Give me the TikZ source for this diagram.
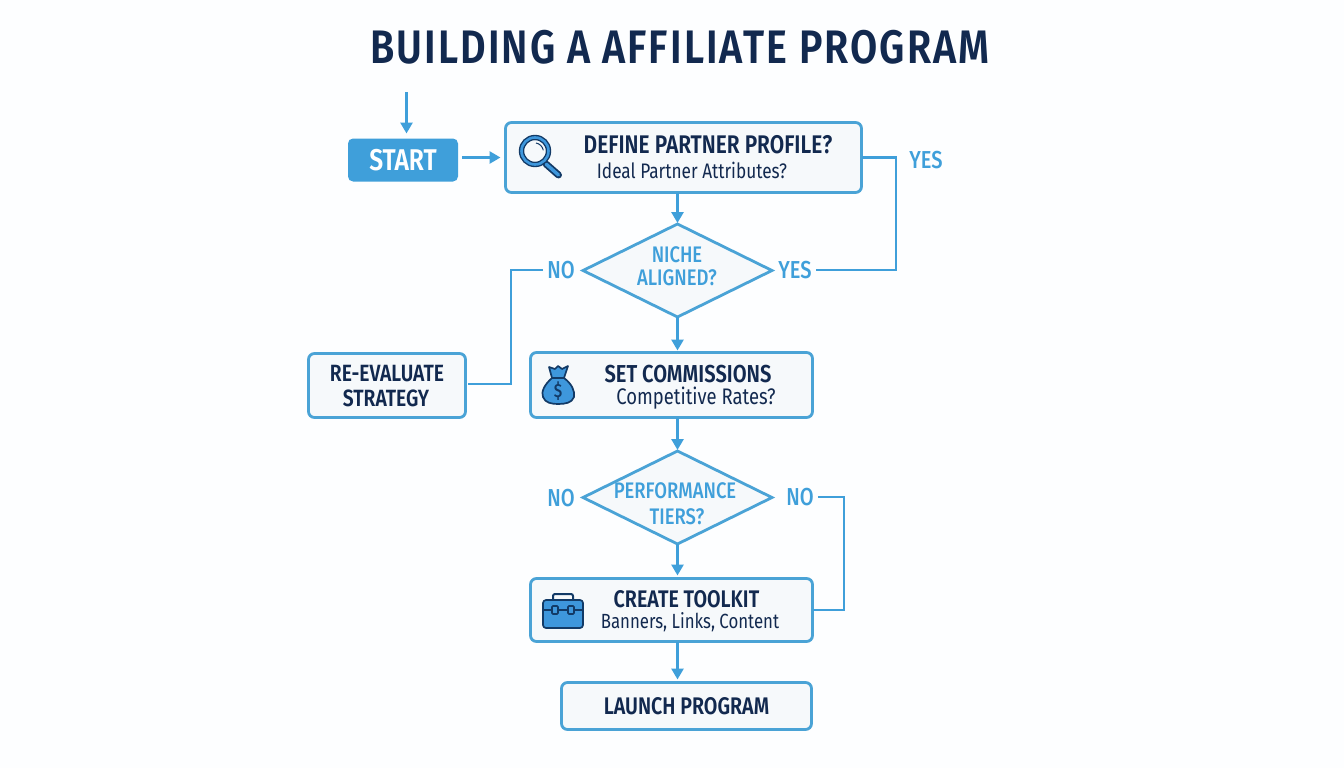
\documentclass[tikz,border=0pt]{standalone}
\usepackage{fontspec}
\setmainfont{Fira Sans}
\newfontfamily\condB[FakeStretch=0.82]{Fira Sans SemiBold}
\newfontfamily\condM[FakeStretch=0.82]{Fira Sans Medium}
\newfontfamily\condR[FakeStretch=0.82]{Fira Sans}
\newfontfamily\titlef[FakeStretch=0.84,LetterSpace=4.5]{Fira Sans SemiBold}
\usetikzlibrary{arrows.meta,shapes.geometric}
\definecolor{navy}{HTML}{12294F}
\definecolor{blu}{HTML}{3F9FDA}
\definecolor{bluedge}{HTML}{4AA3D6}
\definecolor{pale}{HTML}{F6F9FB}
\definecolor{icon}{HTML}{123A66}
\definecolor{iconfill}{HTML}{3E97DC}
\tikzset{
  x=1pt,y=-1pt,
  boxnode/.style={draw=bluedge,line width=2.8pt,fill=pale,rounded corners=6pt,minimum width=#1,inner sep=0pt,outer sep=0pt,align=center,text=navy},
  decision/.style={shape=diamond,draw=bluedge,line width=2.8pt,fill=pale,minimum width=189pt,minimum height=93pt,inner sep=0pt,outer sep=0pt},
  decisiontext/.style={inner sep=0pt,outer sep=0pt,text=blu,align=center,font=\condM\fontsize{22.5}{24}\selectfont},
  flowlbl/.style={text=blu,inner sep=1pt,font=\condM\fontsize{24.5}{26}\selectfont},
  head/.style={font=\condB\fontsize{24}{25}\selectfont},
  sub/.style={font=\condR\fontsize{20.5}{22}\selectfont},
  link/.style={draw=blu,line width=2.8pt},
  arrow/.style={link,-{Triangle[length=11pt,width=12pt]}},
  iconline/.style={draw=icon,line width=1.7pt,fill=iconfill,line join=round},
}
\begin{document}
\begin{tikzpicture}
\fill[white!99!blu] (0,0) rectangle (1344,768);
\useasboundingbox (0,0) rectangle (1344,768);

\node[text=navy,font=\titlef\fontsize{47}{50}\selectfont,inner sep=0pt] (title) at (680,47) {BUILDING A AFFILIATE PROGRAM};

% Boxes
\node[fill=blu,draw=none,rounded corners=5pt,minimum width=110pt,minimum height=43pt,inner sep=0pt,outer sep=0pt,text=white,font=\condB\fontsize{30}{30}\selectfont] (start) at (403,160) {START};
\node[boxnode=356pt,minimum height=70pt] (define) at (683.5,157.5) {};
\node[text=navy,font=\condB\fontsize{25.5}{26}\selectfont] (definet) at (708,145) {DEFINE PARTNER PROFILE?};
\node[sub,text=navy,font=\condR\fontsize{21}{22}\selectfont] (defines) at (692,170) {Ideal Partner Attributes?};

\node[boxnode=282pt,minimum height=65pt] (comm) at (671.5,385) {};
\node[text=navy,font=\condB\fontsize{24.5}{26}\selectfont] (commt) at (688,374) {SET COMMISSIONS};
\node[sub,text=navy,font=\condR\fontsize{22.5}{24}\selectfont] (comms) at (696,398) {Competitive Rates?};

\node[boxnode=157pt,minimum height=64pt] (reeval) at (387,385.5) {};
\node[text=navy,font=\condB\fontsize{23.5}{25}\selectfont] (reevalt) at (387,374) {RE-EVALUATE};
\node[text=navy,font=\condB\fontsize{23.5}{25}\selectfont] (reevaltt) at (386,398) {STRATEGY};

\node[boxnode=282pt,minimum height=63pt] (toolkit) at (671.5,610) {};
\node[head,text=navy] (toolkitt) at (686.5,599) {CREATE TOOLKIT};
\node[sub,text=navy] (toolkits) at (690,622) {Banners, Links, Content};

\node[boxnode=250pt,minimum height=47pt,head] (launch) at (686.5,706) {LAUNCH PROGRAM};

% Diamonds
\node[decision] (niche) at (677.5,270.5) {};
\node[decision] (perf) at (677.5,497.5) {};
\node[decisiontext] (nichet) at (677,255) {NICHE};
\node[decisiontext] (nichett) at (677,278) {ALIGNED?};
\node[decisiontext] (perft) at (675,491) {PERFORMANCE};
\node[decisiontext] (perftt) at (677,517) {TIERS?};

% Labels
\node[flowlbl] (yesa) at (926,160) {YES};
\node[flowlbl] (yesb) at (795,270) {YES};
\node[flowlbl] (noa) at (561,270) {NO};
\node[flowlbl] (nob) at (561,498) {NO};
\node[flowlbl] (noc) at (800,497) {NO};

% Connectors
\coordinate (entry) at (406.5,92);
\draw[arrow,shorten >=5pt] (entry) -- (entry |- start.north);
\draw[arrow,shorten <=4pt,shorten >=5pt] (start.east |- define.west) -- (define.west);
\draw[arrow,shorten >=1pt] (niche.north |- define.south) -- (niche.north);
\draw[arrow,shorten >=2pt] (niche.south) -- (niche.south |- comm.north);
\draw[arrow,shorten >=1pt] (perf.north |- comm.south) -- (perf.north);
\draw[arrow,shorten >=3pt] (perf.south) -- (perf.south |- toolkit.north);
\draw[arrow,shorten >=3pt] (perf.south |- toolkit.south) -- (perf.south |- launch.north);

\coordinate (rrail) at (896,214);
\draw[link] (define.east) -| (rrail) |- ([xshift=3pt]yesb.east);
\coordinate (lrail) at (511,330);
\draw[link] ([xshift=-3pt]noa.west) -| (lrail) |- ([xshift=2pt,yshift=1.5pt]reeval.east);
\coordinate (nrail) at (844,550);
\draw[link] ([xshift=3pt]noc.east) -| (nrail) |- (toolkit.east);

% Magnifier
\draw[icon,line width=7pt,line cap=round] (546,164) -- (558.5,175);
\draw[iconfill,line width=3.4pt,line cap=round] (546,164) -- (558.5,175);
\draw[icon,line width=5.4pt] (535,151) circle (13.5);
\draw[iconfill,line width=2.6pt] (535,151) circle (13.5);
\draw[icon,line width=1pt] (536,143) arc (-80:-10:9 and 9);

% Money bag
\path[iconline] (552,378) .. controls (544,385) and (541,392) .. (543,397) .. controls (545,403) and (552,404) .. (558,404) .. controls (565,404) and (572,403) .. (574,397) .. controls (575,391) and (572,384) .. (564,378) -- cycle;
\path[iconline] (552,378) -- (549,367) -- (555,369) -- (558,366) -- (562,369) -- (568,366) -- (564,378) -- cycle;
\draw[icon,line width=1.8pt] (551,377.5) -- (565,377.5);
\node[text=icon,inner sep=0pt,font=\condM\fontsize{19}{19}\selectfont] (dollar) at (558,391.5) {\$};

% Toolbox
\path[draw=icon,line width=2pt,rounded corners=2pt] (553,600) -- (553,594) -- (573,594) -- (573,600);
\path[iconline,rounded corners=3pt] (543,600) rectangle (583,628);
\draw[icon,line width=1.6pt] (543,610) -- (552,610) (558,610) -- (568,610) (574,610) -- (583,610);
\draw[icon,line width=1.6pt,fill=iconfill,rounded corners=1pt] (552,606) rectangle (558,614);
\draw[icon,line width=1.6pt,fill=iconfill,rounded corners=1pt] (568,606) rectangle (574,614);
\end{tikzpicture}
\end{document}
